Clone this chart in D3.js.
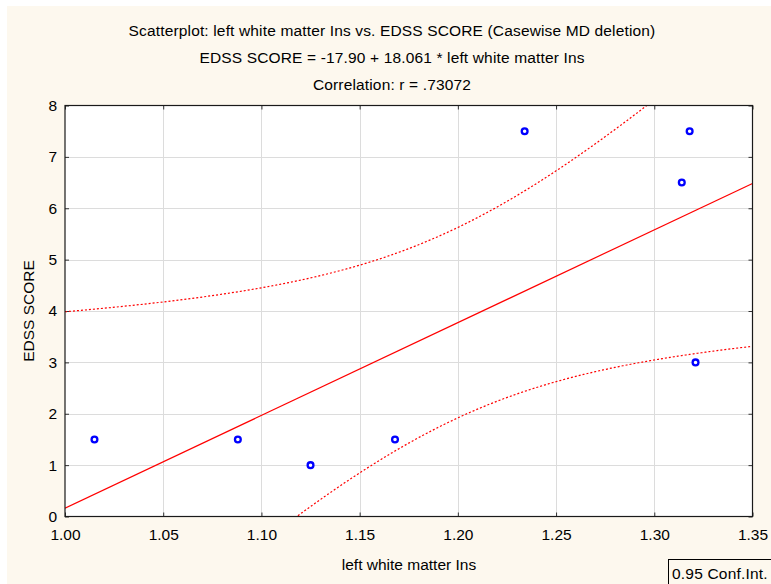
<!DOCTYPE html>
<html>
<head>
<meta charset="utf-8">
<script src="https://cdn.jsdelivr.net/npm/d3@7"></script>
<style>
  html, body { margin: 0; padding: 0; background: #ffffff; }
  svg { display: block; }
  text { font-family: "Liberation Sans", Arial, sans-serif; fill: #000; }
</style>
</head>
<body>
<svg id="chart" width="771" height="584"></svg>
<script>
// Observations (cases with complete data)
const leftWhiteMatterIns = [1.015, 1.088, 1.125, 1.168, 1.234, 1.314, 1.318, 1.321];
const edssScore          = [1.5,   1.5,   1.0,   1.5,   7.5,   6.5,   7.5,   3.0];

// Fitted regression line: EDSS SCORE = intercept + slope * left white matter Ins
const intercept = -17.90;
const slope = 18.061;
const tCrit = 2.447; // Student t, 0.975 quantile, df = n - 2 = 6

// Axis ticks
const xTicks = [1.00, 1.05, 1.10, 1.15, 1.20, 1.25, 1.30, 1.35];
const yTicks = [0, 1, 2, 3, 4, 5, 6, 7, 8];

const titleLines = [
  "Scatterplot: left white matter Ins vs. EDSS SCORE (Casewise MD deletion)",
  "EDSS SCORE = -17.90 + 18.061 * left white matter Ins",
  "Correlation: r = .73072"
];
const xLabel = "left white matter Ins";
const yLabel = "EDSS SCORE";
const legendLabel = "0.95 Conf.Int.";

const W = 771, H = 584;
const plot = { left: 65, right: 752.5, top: 105.5, bottom: 516.5 };
const cream = "#fdf8ee";

const svg = d3.select("#chart");

// page background with thin white margin at top and left
svg.append("rect").attr("x", 7).attr("y", 6).attr("width", W - 7).attr("height", H - 6).attr("fill", cream);

const x = d3.scaleLinear().domain([1.00, 1.35]).range([plot.left, plot.right]);
const y = d3.scaleLinear().domain([0, 8]).range([plot.bottom, plot.top]);

// plot area
svg.append("rect")
  .attr("x", plot.left).attr("y", plot.top)
  .attr("width", plot.right - plot.left).attr("height", plot.bottom - plot.top)
  .attr("fill", "#ffffff");

svg.append("clipPath").attr("id", "plotClip")
  .append("rect")
  .attr("x", plot.left).attr("y", plot.top)
  .attr("width", plot.right - plot.left).attr("height", plot.bottom - plot.top);

// grid lines
const grid = svg.append("g").attr("stroke", "#dcdcdc").attr("stroke-width", 1);
grid.selectAll("line.gx").data(xTicks.slice(1, -1)).join("line")
  .attr("x1", d => Math.round(x(d)) + 0.5).attr("x2", d => Math.round(x(d)) + 0.5)
  .attr("y1", plot.top).attr("y2", plot.bottom);
grid.selectAll("line.gy").data(yTicks.slice(1, -1)).join("line")
  .attr("y1", d => Math.round(y(d)) + 0.5).attr("y2", d => Math.round(y(d)) + 0.5)
  .attr("x1", plot.left).attr("x2", plot.right);

// axes (tick labels) using d3 axes, ticks drawn inward
svg.append("g")
  .attr("transform", `translate(0,${plot.bottom})`)
  .call(d3.axisBottom(x).tickValues(xTicks).tickFormat(d3.format(".2f")).tickSize(-4).tickPadding(12));
svg.append("g")
  .attr("transform", `translate(${plot.left},0)`)
  .call(d3.axisLeft(y).tickValues(yTicks).tickFormat(d3.format("d")).tickSize(-4).tickPadding(8));
// mirrored inward ticks on top and right
svg.append("g").attr("transform", `translate(0,${plot.top})`)
  .call(d3.axisTop(x).tickValues(xTicks).tickFormat("").tickSize(-4));
svg.append("g").attr("transform", `translate(${plot.right},0)`)
  .call(d3.axisRight(y).tickValues(yTicks).tickFormat("").tickSize(-4));

svg.selectAll(".domain").remove();
svg.selectAll(".tick line").attr("stroke", "#333");
svg.selectAll(".tick text").attr("font-size", 15.5).attr("fill", "#000")
  .style("font-family", '"Liberation Sans", Arial, sans-serif');

// confidence band for the mean response, from the observations
const n = leftWhiteMatterIns.length;
const xMean = d3.mean(leftWhiteMatterIns);
const Sxx = d3.sum(leftWhiteMatterIns, v => (v - xMean) ** 2);
const fitted = v => intercept + slope * v;
const sse = d3.sum(leftWhiteMatterIns, (v, i) => (edssScore[i] - fitted(v)) ** 2);
const s = Math.sqrt(sse / (n - 2));
const halfWidth = v => tCrit * s * Math.sqrt(1 / n + (v - xMean) ** 2 / Sxx);
const bandX = d3.range(1.00, 1.3501, 0.002);

const lines = svg.append("g").attr("clip-path", "url(#plotClip)");
lines.append("path")
  .datum(x.domain())
  .attr("d", d3.line().x(d => x(d)).y(d => y(fitted(d))))
  .attr("fill", "none").attr("stroke", "#ff0000").attr("stroke-width", 1.2);
[1, -1].forEach(sign => {
  lines.append("path")
    .datum(bandX)
    .attr("d", d3.line().x(d => x(d)).y(d => y(fitted(d) + sign * halfWidth(d))))
    .attr("fill", "none").attr("stroke", "#ff0000").attr("stroke-width", 1.2)
    .attr("stroke-dasharray", "2,2");
});

// points
svg.append("g").selectAll("circle")
  .data(leftWhiteMatterIns.map((v, i) => [v, edssScore[i]]))
  .join("circle")
  .attr("cx", d => x(d[0])).attr("cy", d => y(d[1]))
  .attr("r", 2.9)
  .attr("fill", "#ffffff").attr("stroke", "#0000ff").attr("stroke-width", 2.3);

// plot frame
svg.append("rect")
  .attr("x", plot.left).attr("y", plot.top)
  .attr("width", plot.right - plot.left).attr("height", plot.bottom - plot.top)
  .attr("fill", "none").attr("stroke", "#1a1a1a").attr("stroke-width", 1.2);

// titles
const titleY = [36, 63, 89.5];
svg.selectAll("text.title").data(titleLines).join("text")
  .attr("class", "title")
  .attr("x", 392).attr("y", (d, i) => titleY[i])
  .attr("text-anchor", "middle").attr("font-size", 15.5).attr("letter-spacing", 0.15)
  .text(d => d);

// axis titles
svg.append("text").attr("x", 409).attr("y", 569.5)
  .attr("text-anchor", "middle").attr("font-size", 15.5).text(xLabel);
svg.append("text")
  .attr("transform", `translate(34,311) rotate(-90)`)
  .attr("text-anchor", "middle").attr("font-size", 15.5).text(yLabel);

// confidence interval legend box
svg.append("rect").attr("x", 668.5).attr("y", 559.5).attr("width", 110).attr("height", 30)
  .attr("fill", cream).attr("stroke", "#000").attr("stroke-width", 1);
svg.append("text").attr("x", 672).attr("y", 578.5).attr("font-size", 15.5).attr("letter-spacing", 0.2)
  .text(legendLabel);
</script>
</body>
</html>
